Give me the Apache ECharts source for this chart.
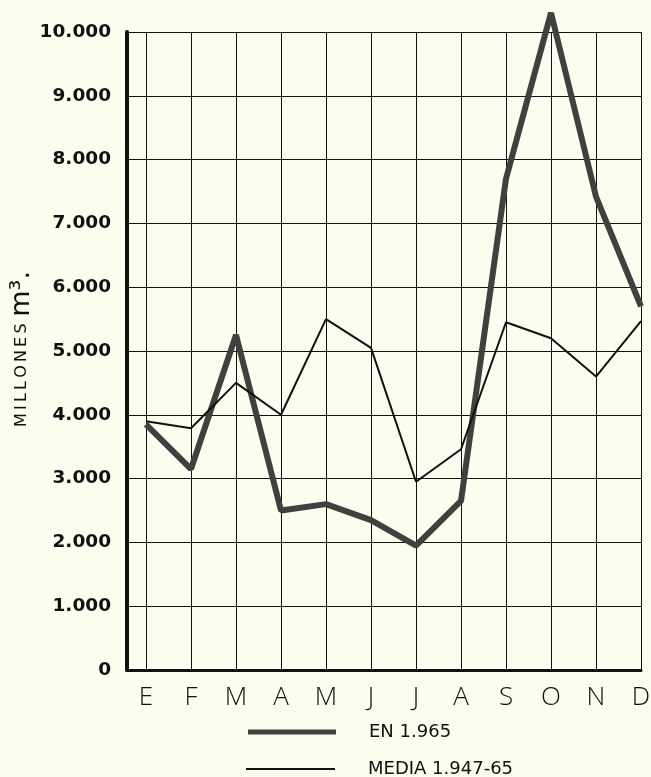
<!DOCTYPE html>
<html>
<head>
<meta charset="utf-8">
<script src="https://cdn.jsdelivr.net/npm/echarts@6/dist/echarts.min.js"></script>
<style>
html,body{margin:0;padding:0;background:#fcfcef;}
#c{width:651px;height:777px;}
</style>
</head>
<body>
<div id="c"></div>
<script>
const months = ['E','F','M','A','M','J','J','A','S','O','N','D'];
const en1965 = [3850, 3150, 5250, 2500, 2600, 2350, 1950, 2650, 7700, 10300, 7420, 5700];
const media4765 = [3900, 3790, 4500, 4000, 5500, 5050, 2950, 3460, 5450, 5200, 4600, 5470];

const chart = echarts.init(document.getElementById('c'), null, {renderer:'canvas'});
const fmtY = v => v === 0 ? '0' : (v/1000).toFixed(0) + '.000';
const ink = '#111';
const ts = '\u2009';
const yName = 'MILLONES'.split('').join(ts);
chart.setOption({
  backgroundColor: '#fcfcef',
  animation: false,
  grid: [
    {left:127, right:10, top:32, bottom:107, outerBoundsMode:'none', containLabel:false},
    {left:146, right:10, top:32, bottom:107, outerBoundsMode:'none', containLabel:false}
  ],
  graphic: [
    {type:'text', x:22, y:349, rotation:Math.PI/2,
     style:{text:'{a|' + yName + '}  {b|m³.}', align:'center', verticalAlign:'middle', fill:'#111',
       rich:{a:{fontFamily:'DejaVu Sans', fontSize:16, fill:'#111'}, b:{fontFamily:'DejaVu Sans', fontSize:27, fill:'#111'}}}}
  ],
  xAxis: [
    {gridIndex:0, type:'value', min:0, max:1, axisLabel:{show:false}, axisTick:{show:false},
     splitLine:{show:false}, axisLine:{show:true, lineStyle:{color:ink, width:3}}},
    {gridIndex:1, type:'value', min:0, max:11, interval:1,
     axisLine:{show:false}, axisTick:{show:false},
     splitLine:{show:true, lineStyle:{color:ink, width:1}},
     axisLabel:{show:true, margin:15, fontFamily:'Open Sans', fontWeight:300, fontSize:26, color:'#111',
       formatter: v => months[Math.round(v)] || ''}}
  ],
  yAxis: [
    {gridIndex:0, type:'value', min:0, max:10000, interval:1000,
     axisLine:{show:true, lineStyle:{color:ink, width:4}}, axisTick:{show:false},
     splitLine:{show:true, lineStyle:{color:ink, width:1}},
     axisLabel:{margin:16, fontFamily:'DejaVu Sans', fontWeight:'bold', fontSize:18.5, color:'#111', formatter: fmtY}},
    {gridIndex:1, type:'value', min:0, max:10000, interval:1000, show:false}
  ],
  legend: [
    {data:['EN 1.965'], left:243, top:718, orient:'horizontal', itemWidth:88, itemHeight:5, icon:'rect',
     textStyle:{fontFamily:'DejaVu Sans', fontSize:18, color:'#111', padding:[3,0,0,28]}},
    {data:['MEDIA 1.947-65'], left:241, top:755, orient:'horizontal', itemWidth:89, itemHeight:2, icon:'rect',
     textStyle:{fontFamily:'DejaVu Sans', fontSize:18, color:'#111', padding:[3,0,0,28]}}
  ],
  series: [
    {name:'EN 1.965', type:'line', xAxisIndex:1, yAxisIndex:1, clip:false, symbol:'none',
     data: en1965.map((v,i)=>[i,v]), lineStyle:{color:'#404040', width:6}, itemStyle:{color:'#404040'}, z:3},
    {name:'MEDIA 1.947-65', type:'line', xAxisIndex:1, yAxisIndex:1, clip:false, symbol:'none',
     data: media4765.map((v,i)=>[i,v]), lineStyle:{color:'#111', width:2}, itemStyle:{color:'#111'}, z:4}
  ]
});
</script>
</body>
</html>
